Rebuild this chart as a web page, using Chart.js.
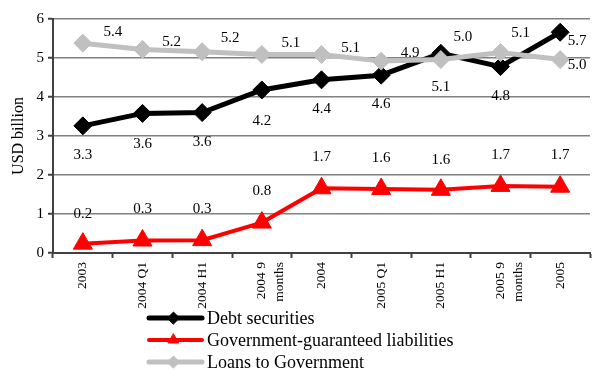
<!DOCTYPE html>
<html>
<head>
<meta charset="utf-8">
<script src="https://cdn.jsdelivr.net/npm/chart.js@4"></script>
<style>
  html, body { margin: 0; padding: 0; background: #ffffff; }
  #wrap { width: 602px; height: 370px; position: relative; }
</style>
</head>
<body>
<div id="wrap"><canvas id="chart"></canvas></div>
<script>
// Reporting periods on the category axis
const periods = ["2003", "2004 Q1", "2004 H1", ["2004 9", "months"], "2004",
                 "2005 Q1", "2005 H1", ["2005 9", "months"], "2005"];

// USD billion
const debtSecurities = [3.26, 3.58, 3.6, 4.18, 4.44, 4.56, 5.12, 4.78, 5.66];
const govGuaranteed  = [0.24, 0.32, 0.33, 0.78, 1.66, 1.64, 1.62, 1.72, 1.7];
const loansToGov     = [5.38, 5.22, 5.16, 5.09, 5.09, 4.92, 4.96, 5.14, 4.96];

const yTicks = [0, 1, 2, 3, 4, 5, 6];

const seriesNames = ["Debt securities", "Government-guaranteed liabilities", "Loans to Government"];

const SERIF = "'Liberation Serif', 'Times New Roman', serif";

// Where each value label sits relative to its point (pixels)
const labelShift = [
  [[0, 29], [0, 31], [0, 29], [0, 31], [0, 29], [0, 29], [0, 34], [0, 29], [17, 9]],
  [[0, -30], [0, -31], [0, -31], [0, -32], [0, -31], [0, -31], [0, -30], [0, -31], [0, -32]],
  [[30, -11], [29, -7], [28, -14], [29, -11], [29, -6], [29, -8], [22, -22], [20, -19], [17, 6]]
];

const valueLabels = {
  id: 'valueLabels',
  afterDatasetsDraw(chart) {
    const ctx = chart.ctx;
    ctx.save();
    ctx.font = "15px " + SERIF;
    ctx.fillStyle = "#000000";
    ctx.textAlign = "center";
    ctx.textBaseline = "middle";
    chart.data.datasets.forEach((ds, di) => {
      const meta = chart.getDatasetMeta(di);
      meta.data.forEach((pt, i) => {
        const s = labelShift[di][i];
        ctx.fillText(ds.data[i].toFixed(1), pt.x + s[0], pt.y + s[1]);
      });
    });
    ctx.restore();
  }
};

// Stacked legend under the axis labels
const stackedLegend = {
  id: 'stackedLegend',
  afterDraw(chart) {
    const ctx = chart.ctx;
    ctx.save();
    const x0 = 149, x1 = 202, tx = 207;
    const rows = [318, 340, 362];
    chart.data.datasets.forEach((ds, i) => {
      const y = rows[i];
      ctx.strokeStyle = ds.borderColor;
      ctx.lineWidth = ds.borderWidth;
      ctx.lineCap = "round";
      ctx.beginPath();
      ctx.moveTo(x0, y);
      ctx.lineTo(x1, y);
      ctx.stroke();
      ctx.fillStyle = ds.pointBackgroundColor;
      ctx.strokeStyle = ds.pointBorderColor;
      ctx.lineWidth = 1;
      Chart.helpers.drawPoint(ctx, {
        pointStyle: ds.pointStyle,
        radius: 6,
        borderWidth: 1,
        rotation: 0
      }, (x0 + x1) / 2 - 2, y);
      ctx.fillStyle = "#000000";
      ctx.font = "18px " + SERIF;
      ctx.textAlign = "left";
      ctx.textBaseline = "middle";
      ctx.fillText(ds.label, tx, y + 1);
    });
    ctx.restore();
  }
};

new Chart(document.getElementById('chart'), {
  type: 'line',
  data: {
    labels: periods,
    datasets: [
      {
        label: seriesNames[0],
        data: debtSecurities,
        borderColor: "#000000",
        backgroundColor: "#000000",
        pointBackgroundColor: "#000000",
        pointBorderColor: "#000000",
        borderWidth: 5,
        pointStyle: 'rectRot',
        pointRadius: 9,
        pointBorderWidth: 1,
        order: 2
      },
      {
        label: seriesNames[1],
        data: govGuaranteed,
        borderColor: "#ff0000",
        backgroundColor: "#ff0000",
        pointBackgroundColor: "#ff0000",
        pointBorderColor: "#ff0000",
        borderWidth: 4,
        pointStyle: 'triangle',
        pointRadius: 11,
        pointBorderWidth: 1,
        order: 3
      },
      {
        label: seriesNames[2],
        data: loansToGov,
        borderColor: "#c0c0c0",
        backgroundColor: "#c0c0c0",
        pointBackgroundColor: "#c0c0c0",
        pointBorderColor: "#c0c0c0",
        borderWidth: 5,
        pointStyle: 'rectRot',
        pointRadius: 9,
        pointBorderWidth: 1,
        order: 1
      }
    ]
  },
  options: {
    responsive: true,
    maintainAspectRatio: false,
    animation: false,
    devicePixelRatio: 1,
    layout: { padding: { top: 19, right: 0, left: 0, bottom: 0 } },
    plugins: {
      legend: { display: false },
      tooltip: { enabled: false }
    },
    elements: { line: { tension: 0 } },
    scales: {
      x: {
        type: 'category',
        offset: true,
        grid: {
          offset: true,
          drawOnChartArea: false,
          drawTicks: true,
          tickLength: 5,
          tickColor: "#404040",
          tickWidth: 2
        },
        border: { display: true, color: "#404040", width: 2 },
        ticks: {
          autoSkip: false,
          minRotation: 90,
          maxRotation: 90,
          padding: 4,
          color: "#000000",
          font: { family: SERIF, size: 13.5, lineHeight: 1.3 }
        },
        afterFit(scale) { scale.height = 117; }
      },
      y: {
        min: 0,
        max: 6,
        afterBuildTicks(scale) { scale.ticks = yTicks.map(v => ({ value: v })); },
        grid: {
          color: "#808080",
          lineWidth: 1.5,
          drawTicks: true,
          tickLength: 5,
          tickColor: "#404040",
          tickWidth: 2
        },
        border: { display: true, color: "#404040", width: 2 },
        ticks: {
          padding: 4,
          color: "#000000",
          font: { family: SERIF, size: 15 }
        },
        title: {
          display: true,
          text: "USD billion",
          color: "#000000",
          font: { family: SERIF, size: 16 },
          padding: { top: 9, bottom: 0 }
        },
        afterFit(scale) { scale.width = 53; }
      }
    }
  },
  plugins: [valueLabels, stackedLegend]
});
</script>
</body>
</html>
